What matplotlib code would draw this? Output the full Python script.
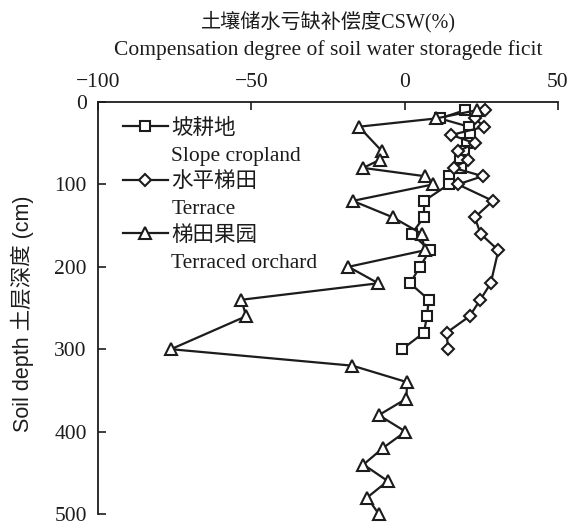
import matplotlib
matplotlib.use("Agg")
import matplotlib.pyplot as plt
from matplotlib.lines import Line2D

# Compensation degree of soil water storage deficit (CSW, %) by soil depth (cm)
depth_slope = [10, 20, 30, 40, 50, 60, 70, 80, 90, 100,
               120, 140, 160, 180, 200, 220, 240, 260, 280, 300]
csw_slope = [19.6, 11.5, 21.0, 21.5, 20.5, 19.5, 18.0, 18.5, 14.4, 14.4,
             6.4, 6.3, 2.3, 8.3, 5.0, 1.8, 7.9, 7.3, 6.3, -0.8]

depth_terrace = [10, 20, 30, 40, 50, 60, 70, 80, 90, 100,
                 120, 140, 160, 180, 220, 240, 260, 280, 300]
csw_terrace = [26.1, 22.9, 26.0, 15.3, 22.9, 17.4, 20.7, 16.0, 25.5, 17.4,
               28.8, 22.9, 24.8, 30.6, 28.1, 24.7, 21.2, 13.7, 14.2]

depth_orchard = [10, 20, 30, 60, 70, 80, 90, 100, 120, 140, 160, 180, 200,
                 220, 240, 260, 300, 320, 340, 360, 380, 400, 420, 440,
                 460, 480, 500]
csw_orchard = [23.5, 10.2, -14.9, -7.3, -8.0, -13.5, 6.5, 9.3, -16.9, -3.8,
               5.6, 6.5, -18.3, -8.6, -53.2, -51.7, -76.2, -17.0, 0.8, 0.6,
               -8.4, 0.3, -7.1, -13.4, -5.5, -12.2, -8.4]

labels_cn = ["坡耕地", "水平梯田", "梯田果园"]
labels_en = ["Slope cropland", "Terrace", "Terraced orchard"]
x_ticks = [-100, -50, 0, 50]
y_ticks = [0, 100, 200, 300, 400, 500]

serif = ["Liberation Serif", "Noto Sans CJK SC"]
sans = ["Liberation Sans", "Noto Sans CJK SC"]
ink = "#1c1c1c"

fig = plt.figure(figsize=(5.71, 5.26), dpi=100)
ax = fig.add_axes([0.1716, 0.0228, 0.8054, 0.7833])

common = dict(color=ink, lw=1.6, markerfacecolor="white",
              markeredgecolor=ink, markeredgewidth=1.5, clip_on=False)
h1, = ax.plot(csw_slope, depth_slope, marker="s", ms=6.5, **common)
h2, = ax.plot(csw_terrace, depth_terrace, marker="D", ms=6.0, **common)
h3, = ax.plot(csw_orchard, depth_orchard, marker="^", ms=8.0, **common)

ax.set_xlim(-100, 50)
ax.set_ylim(500, 0)
ax.set_xticks(x_ticks)
ax.set_yticks(y_ticks)
ax.xaxis.tick_top()
ax.set_xticklabels([("\u2212%d" % -v) if v < 0 else str(v) for v in x_ticks])
ax.tick_params(axis="both", direction="in", length=6, width=1.2, colors=ink,
               labelsize=15.5)
ax.tick_params(axis="x", pad=7)
ax.tick_params(axis="y", pad=8)
for lab in ax.get_xticklabels() + ax.get_yticklabels():
    lab.set_family(serif)
    lab.set_color(ink)

for side in ("right", "bottom"):
    ax.spines[side].set_visible(False)
for side in ("left", "top"):
    ax.spines[side].set_linewidth(1.3)
    ax.spines[side].set_color(ink)

blank = Line2D([], [], linestyle="none")
handles = [h1, blank, h2, blank, h3, blank]
labels = [labels_cn[0], labels_en[0], labels_cn[1], labels_en[1],
          labels_cn[2], labels_en[2]]
leg = ax.legend(handles, labels, loc="upper left", bbox_to_anchor=(0.035, 0.98),
                frameon=False, handlelength=2.1, handletextpad=0.15,
                labelspacing=0.31, borderaxespad=0.0,
                prop={"family": serif, "size": 15.5})
for t in leg.get_texts():
    t.set_color(ink)

fig.text(0.5745, 1 - 22 / 526, "土壤储水亏缺补偿度CSW(%)", ha="center", va="center",
         fontsize=14.5, family=serif, color=ink)
fig.text(0.5745, 1 - 50 / 526, "Compensation degree of soil water storagede ficit",
         ha="center", va="center", fontsize=15.5, family=serif, color=ink)
fig.text(22 / 571, 1 - 314 / 526, "Soil depth 土层深度 (cm)", rotation=90,
         ha="center", va="center", fontsize=15.5, family=sans, color=ink)

fig.savefig("out.png", dpi=100)
